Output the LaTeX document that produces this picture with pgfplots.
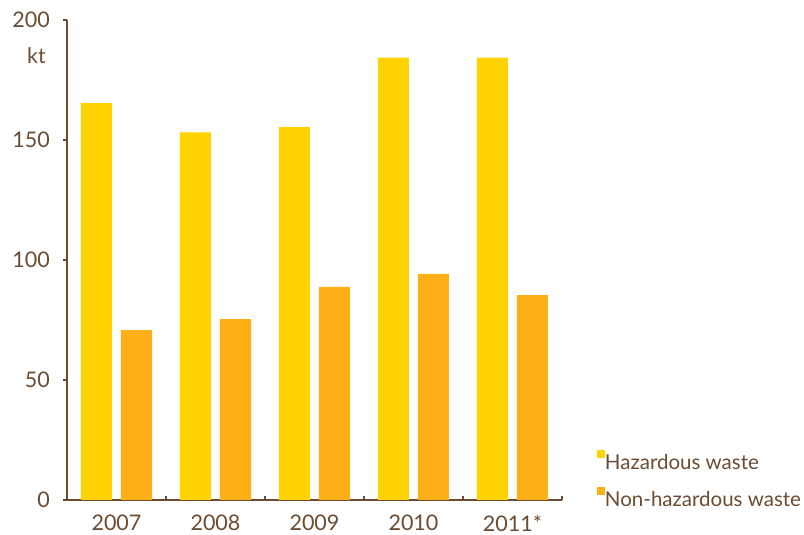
\documentclass[border=0pt]{standalone}
\usepackage{fontspec}
\setmainfont{Lato}
\usepackage{pgfplots}
\pgfplotsset{compat=1.18}
\definecolor{haz}{HTML}{FFD200}
\definecolor{nonhaz}{HTML}{FCAF17}
\definecolor{brn}{HTML}{6B4C32}
\begin{document}
\begin{tikzpicture}[x=1pt,y=1pt]
\path (0,0) rectangle (804,535);
\begin{axis}[
  at={(67pt,35pt)}, anchor=south west,
  scale only axis, width=495pt, height=480pt,
  xmin=0, xmax=5, ymin=0, ymax=200,
  clip=false,
  axis lines=left,
  axis line style={-, brn, line width=2pt},
  ytick={0,50,100,150,200},
  xtick={0,1,2,3,4,5},
  xticklabels={2007,2008,2009,2010,2011*},
  x tick label as interval,
  tick align=outside,
  major tick length=4pt,
  tick style={brn, line width=1.5pt},
  xtick style={yshift=4pt},
  /pgf/number format/assume math mode=true,
  tick label style={font=\fontsize{21.5}{25}\selectfont, text=brn},
  yticklabel style={inner sep=0pt, xshift=-13pt},
  xticklabel style={inner sep=0pt, yshift=-11pt},
  legend style={draw=none, fill=none, inner sep=0pt, outer sep=0pt,
    at={(1.0707,-0.02)}, anchor=south west,
    font=\fontsize{20.5}{24}\selectfont, text=brn,
    nodes={inner sep=0pt, text height=15pt, text depth=3pt},
    row sep=14pt, column sep=0pt},
  legend cell align=left,
  legend image code/.code={\fill[#1] (0pt,6pt) rectangle (8pt,14pt);},
]
\addplot[ybar, bar width=31pt, bar shift=-20pt, fill=haz, draw=none]
  coordinates {(0.5,165.4) (1.5,153.2) (2.5,155.4) (3.5,184.3) (4.5,184.3)};
\addlegendentry{Hazardous waste}
\addplot[ybar, bar width=31pt, bar shift=20pt, fill=nonhaz, draw=none]
  coordinates {(0.5,70.8) (1.5,75.4) (2.5,88.75) (3.5,94.2) (4.5,85.4)};
\addlegendentry{Non-hazardous waste}
\node[anchor=east, inner sep=0pt, font=\fontsize{21.5}{25}\selectfont, text=brn]
  at (axis cs:0,185) [xshift=-21pt] {kt};
\end{axis}
\end{tikzpicture}
\end{document}
